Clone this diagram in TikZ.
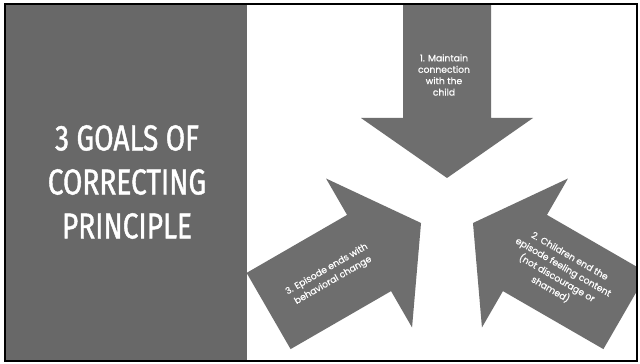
\documentclass[tikz,border=0pt]{standalone}
\usepackage{fontspec}
\setmainfont{Poppins}[FakeBold=0.6]
\newfontfamily\titlefont[FakeStretch=0.78,FakeBold=1.2]{Fira Sans}
\definecolor{panelgray}{RGB}{104,104,104}
\definecolor{arrowgray}{RGB}{110,110,110}
\tikzset{
  goalarrow/.style={fill=arrowgray, draw=none},
  arrowtext/.style={text=white, font=\fontsize{9.2}{11.4}\selectfont, align=center, inner sep=0pt},
  tiltedtext/.style={arrowtext, font=\fontsize{9.2}{12.8}\selectfont},
  titletext/.style={text=white, font=\titlefont\fontsize{36}{44}\selectfont, align=center, inner sep=0pt}
}
\begin{document}
\begin{tikzpicture}[x=1pt,y=1pt]
\useasboundingbox (0,0) rectangle (640,364);
\fill[white] (0,0) rectangle (640,364);
% left panel
\fill[panelgray] (5,3) rectangle (247,360);
\coordinate (C) at (447,156);
\begin{scope}
\clip (5,3) rectangle (637,360);
\foreach \ang in {90,210,330}{
  \fill[goalarrow, shift={(C)}, rotate=\ang]
    (206,44) -- (90,44) -- (90,86) -- (30,0) -- (90,-86) -- (90,-44) -- (206,-44) -- cycle;
}
\end{scope}
% frame
\draw[line width=2pt] (5,3) rectangle (637,360);
% texts
\node[titletext] (title) at (127,182) {3 GOALS OF\\CORRECTING\\PRINCIPLE};
\node[arrowtext] (g1) at (444,289) {1. Maintain\\connection\\with the\\child};
\node[tiltedtext, rotate=30] (g3) at (330,89) {3. Episode ends with\\behavioral change};
\node[tiltedtext, rotate=-30] (g2) at (560,91) {2. Children end the\\episode feeling content\\(not discourage or\\shamed)};
\end{tikzpicture}
\end{document}
